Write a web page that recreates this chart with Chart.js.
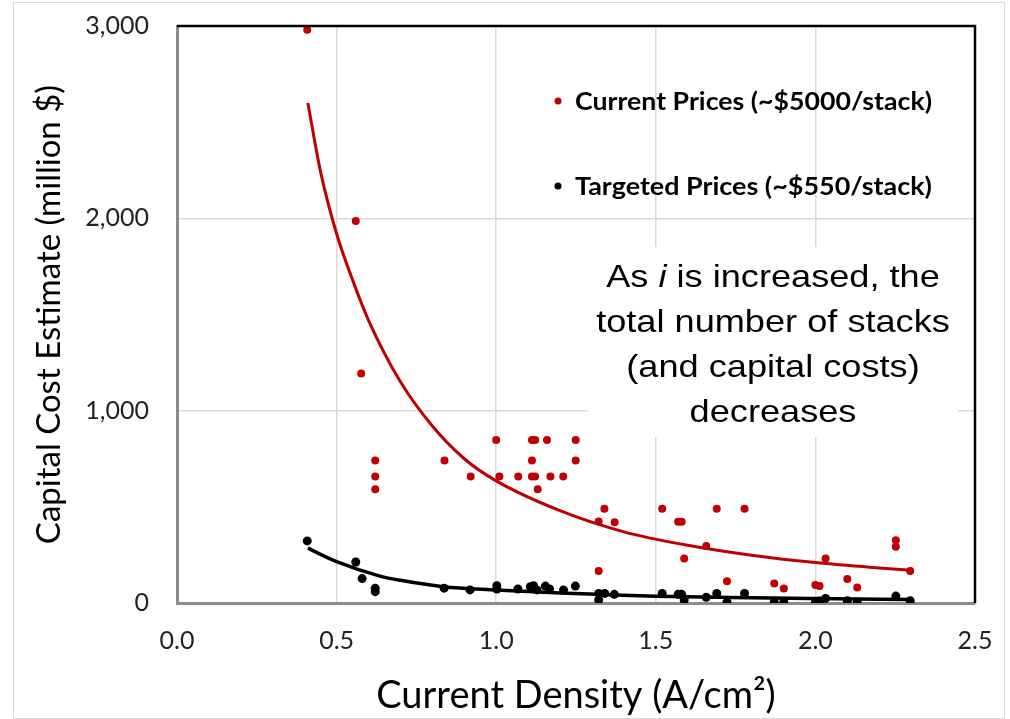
<!DOCTYPE html>
<html>
<head>
<meta charset="utf-8">
<script src="https://cdn.jsdelivr.net/npm/chart.js@4"></script>
<style>
  html, body { margin: 0; padding: 0; background: #fff; }
  #wrap { width: 1010px; height: 719px; }
</style>
</head>
<body>
<div id="wrap"><canvas id="costChart"></canvas></div>
<script>
// values
const currentX = [0.408, 0.560, 0.577, 0.621, 0.621, 0.621, 0.838, 0.920, 1.000, 1.010, 1.069,
  1.112, 1.122, 1.112, 1.112, 1.122, 1.159, 1.130, 1.170, 1.210, 1.249, 1.249,
  1.339, 1.321, 1.371, 1.321, 1.520, 1.570, 1.581, 1.658, 1.589, 1.691, 1.778, 1.723,
  1.871, 1.901, 2.000, 2.013, 2.032, 2.100, 2.131, 2.252, 2.252, 2.297];
const currentY = [2980, 1986, 1193, 741, 658, 592, 741, 658, 847, 658, 658,
  847, 847, 741, 658, 658, 847, 592, 658, 658, 847, 741,
  490, 424, 420, 167, 490, 422, 422, 297, 231, 490, 490, 113,
  102, 75, 94, 89, 231, 125, 80, 326, 293, 167];

const targetX = [0.408, 0.560, 0.580, 0.621, 0.621, 0.837, 0.918, 1.002, 1.002, 1.068,
  1.107, 1.117, 1.128, 1.154, 1.167, 1.211, 1.248, 1.321, 1.321, 1.340, 1.370,
  1.520, 1.570, 1.581, 1.589, 1.658, 1.691, 1.723, 1.778,
  1.871, 1.901, 2.000, 2.013, 2.032, 2.100, 2.131, 2.252, 2.297];
const targetY = [323, 213, 127, 77, 59, 77, 68, 90, 73, 73,
  85, 90, 68, 88, 73, 68, 88, 50, 16, 50, 45,
  50, 45, 45, 16, 30, 50, 4, 50,
  4, 4, 4, 10, 24, 12, 4, 36, 12];

// trend curves
const currentTrendX = [0.41, 0.45, 0.5, 0.55, 0.6, 0.7, 0.8, 0.9, 1.0, 1.2, 1.4, 1.6, 1.8, 2.0, 2.2, 2.3];
const currentTrendY = [2600, 2240, 1920, 1680, 1470, 1150, 920, 750, 635, 480, 370, 300, 248, 210, 182, 170];
const targetTrendX = [0.41, 0.5, 0.636, 0.7, 0.835, 1.0, 1.2, 1.368, 1.5, 1.8, 2.0, 2.3];
const targetTrendY = [285, 215, 140, 118, 85, 68, 52, 42, 35, 27, 23, 18];

const seriesNames = ["Current Prices (~$5000/stack)", "Targeted Prices (~$550/stack)"];
const noteLines = ["As |i| is increased, the", "total number of stacks", "(and capital costs)", "decreases"];

const xTicks = [0, 0.5, 1.0, 1.5, 2.0, 2.5];
const yTicks = [0, 1000, 2000, 3000];

const RED = "#c00000";
const pairs = (xs, ys) => xs.map((x, i) => ({ x: x, y: ys[i] }));

// plot frame: black top/right, light outer border
const framePlugin = {
  id: "frame",
  beforeDraw(chart) {
    const ctx = chart.ctx;
    ctx.save();
    ctx.strokeStyle = "#d9d9d9";
    ctx.lineWidth = 1;
    ctx.strokeRect(13.5, 2.5, 991, 716);
    ctx.restore();
  },
  afterDatasetsDraw(chart) {
    const { ctx, chartArea: a } = chart;
    ctx.save();
    ctx.strokeStyle = "#000";
    ctx.lineWidth = 2.5;
    ctx.beginPath();
    ctx.moveTo(a.left, a.top);
    ctx.lineTo(a.right, a.top);
    ctx.lineTo(a.right, a.bottom);
    ctx.stroke();
    ctx.restore();
  }
};

// legend and the note box inside the plot
const notesPlugin = {
  id: "notes",
  afterDraw(chart) {
    const ctx = chart.ctx;
    ctx.save();

    // legend
    const legendY = [101, 186];
    const colors = [RED, "#000"];
    seriesNames.forEach((name, i) => {
      ctx.fillStyle = colors[i];
      ctx.beginPath();
      ctx.arc(558, legendY[i], 3.5, 0, Math.PI * 2);
      ctx.fill();
      ctx.font = "bold 22px Lato";
      const w = ctx.measureText(name).width;
      ctx.fillStyle = "#000";
      ctx.textBaseline = "middle";
      ctx.textAlign = "left";
      ctx.save();
      ctx.translate(575, legendY[i] + 1);
      ctx.scale(357 / w, 1.12);
      ctx.fillText(name, 0, 0);
      ctx.restore();
    });

    // note box
    ctx.fillStyle = "#fff";
    ctx.fillRect(588, 247, 370, 190);
    const baselines = [287, 332, 377, 422];
    const sx = 1.13;
    ctx.fillStyle = "#000";
    ctx.textBaseline = "alphabetic";
    noteLines.forEach((line, i) => {
      const parts = line.split("|");
      const fonts = parts.map((p, j) => (j % 2 ? "italic " : "") + "32px 'Liberation Sans'");
      let total = 0;
      parts.forEach((p, j) => { ctx.font = fonts[j]; total += ctx.measureText(p).width; });
      ctx.save();
      ctx.translate(773, baselines[i]);
      ctx.scale(sx, 1);
      let x = -total / 2;
      parts.forEach((p, j) => {
        ctx.font = fonts[j];
        ctx.textAlign = "left";
        ctx.fillText(p, x, 0);
        x += ctx.measureText(p).width;
      });
      ctx.restore();
    });
    ctx.restore();
  }
};

new Chart(document.getElementById("costChart"), {
  type: "scatter",
  data: {
    datasets: [
      {
        label: "Current trend",
        data: pairs(currentTrendX, currentTrendY),
        showLine: true,
        borderColor: RED,
        borderWidth: 3,
        pointRadius: 0,
        cubicInterpolationMode: "monotone"
      },
      {
        label: "Targeted trend",
        data: pairs(targetTrendX, targetTrendY),
        showLine: true,
        borderColor: "#000",
        borderWidth: 3.5,
        pointRadius: 0,
        cubicInterpolationMode: "monotone"
      },
      {
        label: seriesNames[0],
        data: pairs(currentX, currentY),
        backgroundColor: RED,
        borderColor: RED,
        pointRadius: 4,
        borderWidth: 0
      },
      {
        label: seriesNames[1],
        data: pairs(targetX, targetY),
        backgroundColor: "#000",
        borderColor: "#000",
        pointRadius: 4.5,
        borderWidth: 0
      }
    ]
  },
  options: {
    responsive: true,
    maintainAspectRatio: false,
    animation: false,
    layout: { padding: { top: 26, right: 35, left: 0, bottom: 0 } },
    plugins: {
      legend: { display: false },
      tooltip: { enabled: false }
    },
    scales: {
      x: {
        type: "linear",
        min: 0,
        max: 2.5,
        afterBuildTicks: s => { s.ticks = xTicks.map(v => ({ value: v })); },
        afterFit: s => { s.height = 116; s.paddingLeft = 10; s.paddingRight = 10; },
        ticks: {
          padding: 23,
          color: "#222",
          font: { family: "Lato", size: 25 },
          callback: v => Number(v).toFixed(1)
        },
        grid: { color: "#d9d9d9", lineWidth: 1.5, drawTicks: false },
        border: { color: "#8c8c8c", width: 3 },
        title: {
          display: true,
          text: "Current Density (A/cm²)",
          color: "#000",
          font: { family: "Lato", size: 38 },
          padding: { top: 8, bottom: 0 }
        }
      },
      y: {
        min: 0,
        max: 3000,
        afterBuildTicks: s => { s.ticks = yTicks.map(v => ({ value: v })); },
        afterFit: s => { s.width = 177; s.paddingTop = 10; s.paddingBottom = 10; },
        ticks: {
          padding: 28,
          color: "#222",
          font: { family: "Lato", size: 25 },
          callback: v => Number(v).toLocaleString("en-US")
        },
        grid: { color: "#d9d9d9", lineWidth: 1.5, drawTicks: false },
        border: { color: "#8c8c8c", width: 3 },
        title: {
          display: true,
          text: "Capital Cost Estimate (million $)",
          color: "#000",
          font: { family: "Lato", size: 33 },
          padding: { top: 30, bottom: 0 }
        }
      }
    }
  },
  plugins: [framePlugin, notesPlugin]
});
</script>
</body>
</html>
